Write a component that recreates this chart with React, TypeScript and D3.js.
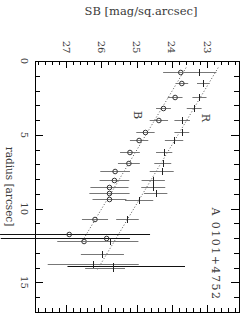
import React from 'react';
import * as d3 from 'd3';

// B band profile (circles)
const bRadius = [0.73, 1.51, 2.46, 3.2, 4.0, 4.79, 5.36, 6.15, 6.9, 7.46, 8.07, 8.52, 8.97, 9.38, 10.73, 11.73, 11.98, 12.18];
const bSB = [23.75, 23.72, 23.91, 24.24, 24.37, 24.75, 24.93, 25.19, 25.22, 25.61, 25.63, 25.77, 25.77, 25.77, 26.18, 26.91, 25.85, 26.49];
const bErrFaint = [0.5, 0.18, 0.21, 0.21, 0.26, 0.26, 0.26, 0.28, 0.31, 0.42, 0.42, 0.54, 0.57, 0.48, 0.37, 1.96, 3.0, 0.76];
const bErrBright = [0.46, 0.18, 0.21, 0.21, 0.26, 0.26, 0.26, 0.28, 0.31, 0.42, 0.42, 0.54, 0.57, 0.48, 0.37, 2.29, 0.66, 1.08];

// R band profile (ticks)
const rRadius = [0.73, 1.51, 2.46, 3.2, 4.0, 4.79, 5.36, 6.15, 6.94, 7.46, 8.07, 8.56, 8.97, 9.42, 10.73, 12.2, 13.08, 13.78, 13.9, 14.05];
const rSB = [23.22, 23.11, 23.22, 23.37, 23.71, 23.72, 23.94, 24.22, 24.26, 24.29, 24.53, 24.53, 24.46, 24.93, 25.26, 25.75, 25.97, 26.23, 25.66, 25.68];
const rErrFaint = [0.48, 0.18, 0.2, 0.21, 0.22, 0.21, 0.26, 0.23, 0.24, 0.34, 0.33, 0.34, 0.33, 0.4, 0.32, 0.8, 0.61, 1.29, 1.3, 0.78];
const rErrBright = [0.48, 0.18, 0.2, 0.21, 0.22, 0.21, 0.26, 0.23, 0.24, 0.34, 0.33, 0.34, 0.33, 0.4, 0.32, 0.8, 0.61, 1.29, 2.03, 0.35];

// exponential disk fits (dotted)
const bFitRadius = [0.45, 12.2];
const bFitSB = [23.6, 26.54];
const rFitRadius = [0.45, 14.2];
const rFitSB = [22.69, 26.13];

const sbLabels = [27, 26, 25, 24, 23];
const radiusLabels = [0, 5, 10, 15];

const W = 245;
const H = 315;
const left = 35, right = 239, top = 61, bottom = 312;
const font = '"DejaVu Serif", serif';
const ink = '#3a3a3a';

const x = d3.scaleLinear().domain([27.88, 22.1]).range([left, right]);
const y = d3.scaleLinear().domain([0, 17]).range([top, bottom]);

const sbTicks = d3.range(111, 140).map(i => i / 5);
const rTicks = d3.range(1, 17);

const line = d3.line<[number, number]>()
  .x(d => x(d[1]))
  .y(d => y(d[0]));

const zip = (a: number[], b: number[]) => a.map((v, i) => [v, b[i]] as [number, number]);

const App = () => {
  const barColor = (lo: number, hi: number) => (Math.max(lo, hi) > 1.5 ? '#111' : '#777');
  return (
    <svg width={W} height={H} style={{ position: 'absolute', left: 0, top: 0, background: '#fff' }}>
      {/* frame */}
      <rect x={left + 0.5} y={top + 0.5} width={right - left} height={bottom - top} fill="none" stroke="#000" strokeWidth={1} />

      {/* top / bottom ticks */}
      {sbTicks.map(t => {
        const major = Math.abs(t - Math.round(t)) < 1e-6;
        const len = major ? 7 : 4;
        const xx = Math.round(x(t)) + 0.5;
        return (
          <g key={'sb' + t}>
            <line x1={xx} x2={xx} y1={top} y2={top + len} stroke="#000" strokeWidth={1} />
            <line x1={xx} x2={xx} y1={bottom} y2={bottom - len} stroke="#000" strokeWidth={1} />
          </g>
        );
      })}
      {/* left / right ticks */}
      {rTicks.map(t => {
        const major = t % 5 === 0;
        const len = major ? 8 : 5;
        const yy = Math.round(y(t)) + 0.5;
        return (
          <g key={'r' + t}>
            <line x1={left} x2={left + len} y1={yy} y2={yy} stroke="#000" strokeWidth={1} />
            <line x1={right} x2={right - len} y1={yy} y2={yy} stroke="#000" strokeWidth={1} />
          </g>
        );
      })}

      {/* tick labels */}
      {sbLabels.map(t => (
        <text key={'sl' + t} transform={`translate(${x(t)},47) rotate(90)`} textAnchor="middle"
          dominantBaseline="central" fontFamily={font} fontSize={10} fill={ink}>{t}</text>
      ))}
      {radiusLabels.map(t => (
        <text key={'rl' + t} transform={`translate(24,${y(t)}) rotate(90)`} textAnchor="middle"
          dominantBaseline="central" fontFamily={font} fontSize={10} fill={ink}>{t}</text>
      ))}

      {/* axis titles */}
      <text x={141} y={15} textAnchor="middle" fontFamily={font} fontSize={11.5} fill={ink}>SB [mag/sq.arcsec]</text>
      <text transform={`translate(10,${(top + bottom) / 2}) rotate(90)`} textAnchor="middle"
        dominantBaseline="central" fontFamily={font} fontSize={10.5} fill={ink}>radius [arcsec]</text>
      <text transform={`translate(215,254) rotate(90)`} textAnchor="middle" dominantBaseline="central"
        fontFamily={font} fontSize={11} letterSpacing={1.5} fill={ink}>A 0101+4752</text>
      <text transform={`translate(137,115) rotate(90)`} textAnchor="middle" dominantBaseline="central"
        fontFamily={font} fontSize={11} fill={ink}>B</text>
      <text transform={`translate(205,118) rotate(90)`} textAnchor="middle" dominantBaseline="central"
        fontFamily={font} fontSize={11} fill={ink}>R</text>

      {/* fits */}
      <path d={line(zip(bFitRadius, bFitSB)) || ''} fill="none" stroke="#555" strokeWidth={1} strokeDasharray="1,2" />
      <path d={line(zip(rFitRadius, rFitSB)) || ''} fill="none" stroke="#555" strokeWidth={1} strokeDasharray="1,2" />

      {/* B error bars + circles */}
      {bRadius.map((r, i) => {
        const yy = Math.round(y(r)) + 0.5;
        return (
          <g key={'b' + i}>
            <line x1={x(bSB[i] + bErrFaint[i])} x2={x(bSB[i] - bErrBright[i])} y1={yy} y2={yy}
              stroke={barColor(bErrFaint[i], bErrBright[i])} strokeWidth={1} />
            <circle cx={x(bSB[i])} cy={yy} r={2.3} fill="none" stroke="#333" strokeWidth={1} />
          </g>
        );
      })}

      {/* R error bars + ticks */}
      {rRadius.map((r, i) => {
        const yy = Math.round(y(r)) + 0.5;
        const xx = Math.round(x(rSB[i])) + 0.5;
        return (
          <g key={'rr' + i}>
            <line x1={x(rSB[i] + rErrFaint[i])} x2={x(rSB[i] - rErrBright[i])} y1={yy} y2={yy}
              stroke={barColor(rErrFaint[i], rErrBright[i])} strokeWidth={1} />
            <line x1={xx} x2={xx} y1={yy - 3.5} y2={yy + 3.5} stroke="#222" strokeWidth={1} />
          </g>
        );
      })}
    </svg>
  );
};

export default App;
